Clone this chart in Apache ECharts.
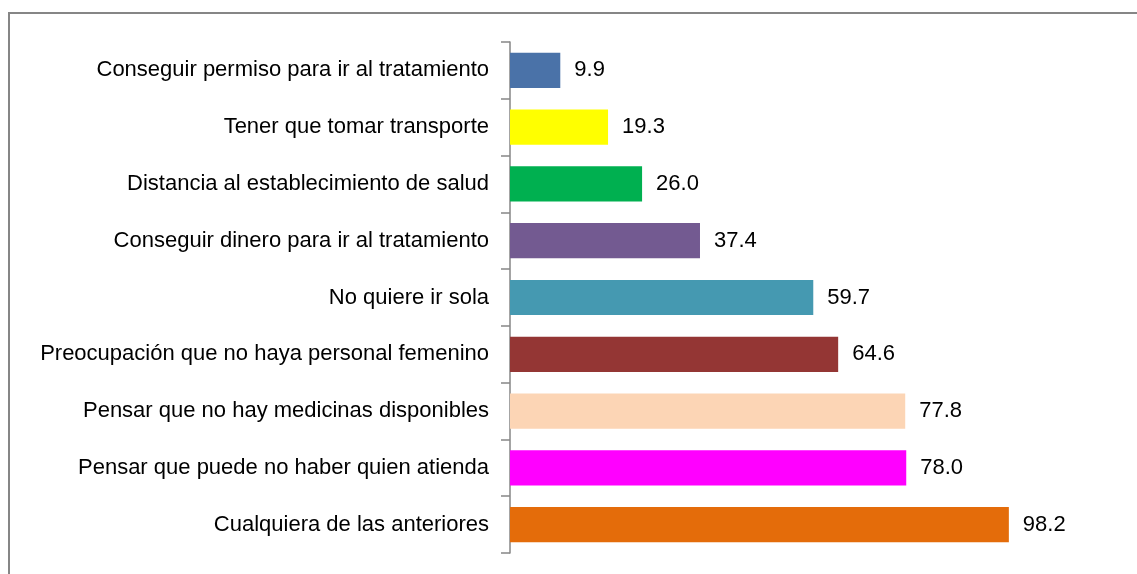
<!DOCTYPE html>
<html>
<head>
<meta charset="utf-8">
<style>
html,body{margin:0;padding:0;background:#fff;}
#chart{width:1137px;height:574px;}
</style>
<script src="https://cdn.jsdelivr.net/npm/echarts@6/dist/echarts.min.js"></script>
</head>
<body>
<div id="chart"></div>
<script>
const categories = [
  "Conseguir permiso para ir al tratamiento",
  "Tener que tomar transporte",
  "Distancia al establecimiento de salud",
  "Conseguir dinero para ir al tratamiento",
  "No quiere ir sola",
  "Preocupación que no haya personal femenino",
  "Pensar que no hay medicinas disponibles",
  "Pensar que puede no haber quien atienda",
  "Cualquiera de las anteriores"
];
const values = [9.9, 19.3, 26.0, 37.4, 59.7, 64.6, 77.8, 78.0, 98.2];
const colors = ["#4A72A8", "#FFFF00", "#00B050", "#735A91", "#4599B1", "#943634", "#FCD5B5", "#FF00FF", "#E46C0A"];

const chart = echarts.init(document.getElementById('chart'));
const font = "'Liberation Sans Narrow', 'Arial Narrow', 'Liberation Sans', sans-serif";
chart.setOption({
  animation: false,
  graphic: [{
    type: 'rect',
    shape: {x: 9, y: 13, width: 1200, height: 600},
    style: {fill: 'none', stroke: '#868686', lineWidth: 2}
  }],
  grid: {left: 510, top: 42, width: 508, height: 511},
  xAxis: {
    type: 'value', min: 0, max: 100, show: false
  },
  yAxis: {
    type: 'category',
    data: categories,
    inverse: true,
    axisLine: {lineStyle: {color: '#868686', width: 1.5}},
    axisTick: {show: true, length: 9, lineStyle: {color: '#868686', width: 1.5}},
    axisLabel: {color: '#000', fontFamily: font, fontSize: 22, margin: 21}
  },
  series: [{
    type: 'bar',
    data: values.map((v, i) => ({value: v, itemStyle: {color: colors[i]}})),
    barCategoryGap: '38%',
    label: {
      show: true, position: 'right', distance: 14,
      color: '#000', fontFamily: font, fontSize: 22,
      formatter: p => p.value.toFixed(1)
    }
  }]
});
</script>
</body>
</html>
